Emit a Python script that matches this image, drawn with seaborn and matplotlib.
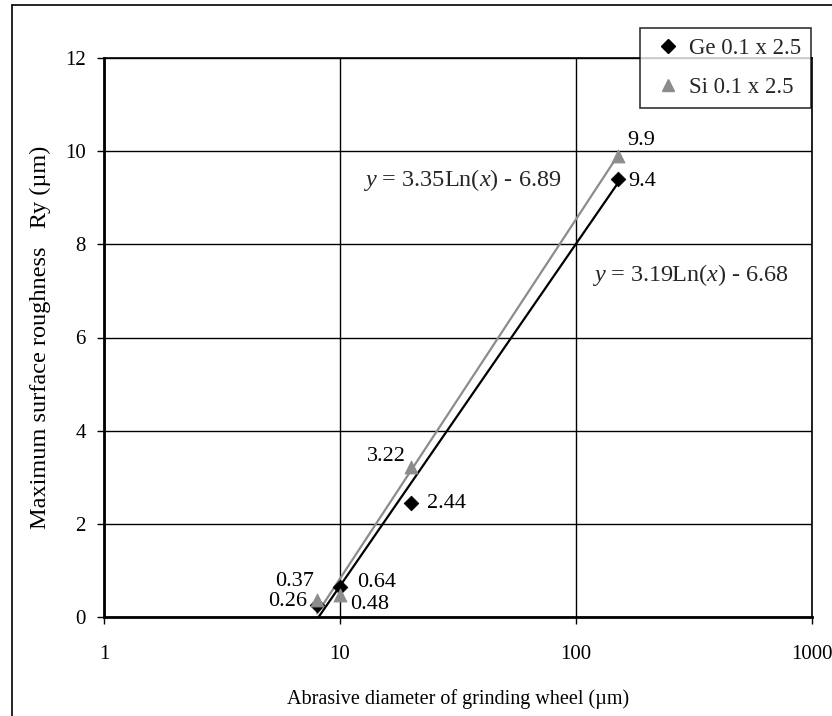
import numpy as np
import pandas as pd
import matplotlib
matplotlib.use("Agg")
import matplotlib.pyplot as plt
from matplotlib.lines import Line2D
import seaborn as sns

# ---- data ----
diameters = [8, 10, 20, 150]
ge_values = [0.26, 0.64, 2.44, 9.4]
si_values = [0.37, 0.48, 3.22, 9.9]
ge_fit = (3.19, -6.68)   # y = a*ln(x) + b
si_fit = (3.35, -6.89)
series_names = ["Ge 0.1 x 2.5", "Si 0.1 x 2.5"]
x_ticks = [1, 10, 100, 1000]
y_ticks = [0, 2, 4, 6, 8, 10, 12]

sns.set_theme(style="white")
plt.rcParams["font.family"] = ["Liberation Serif", "DejaVu Serif"]
plt.rcParams["mathtext.fontset"] = "custom"
plt.rcParams["mathtext.rm"] = "Liberation Serif"
plt.rcParams["mathtext.it"] = "Liberation Serif:italic"

fig = plt.figure(figsize=(8.32, 7.16), dpi=100)
ax = fig.add_axes([104/832, 1-617/716, (812-104)/832, (617-58)/716])

df = pd.DataFrame({
    "x": diameters * 2,
    "y": ge_values + si_values,
    "s": [series_names[0]] * 4 + [series_names[1]] * 4,
})

ge_col = "black"
si_col = "#8c8c8c"

# trend lines from the printed fit coefficients
xs = np.geomspace(min(diameters), max(diameters), 200)
tl = pd.DataFrame({
    "x": np.concatenate([xs, xs]),
    "y": np.concatenate([ge_fit[0]*np.log(xs)+ge_fit[1], si_fit[0]*np.log(xs)+si_fit[1]]),
    "s": ["ge"]*len(xs) + ["si"]*len(xs),
})
sns.lineplot(data=tl[tl.s == "ge"], x="x", y="y", color=ge_col, lw=1.6, ax=ax, legend=False, zorder=3)
sns.lineplot(data=tl[tl.s == "si"], x="x", y="y", color=si_col, lw=1.6, ax=ax, legend=False, zorder=3)

sns.scatterplot(data=df[df.s == series_names[0]], x="x", y="y", marker="D", s=55,
                color=ge_col, edgecolor=ge_col, ax=ax, legend=False, zorder=4)
sns.scatterplot(data=df[df.s == series_names[1]], x="x", y="y", marker="^", s=85,
                color=si_col, edgecolor=si_col, ax=ax, legend=False, zorder=5)

ax.set_xscale("log")
ax.set_xlim(1, 1000)
ax.set_ylim(0, 12)
ax.set_xticks(x_ticks)
ax.set_xticklabels([str(t) for t in x_ticks])
ax.set_yticks(y_ticks)
ax.set_yticklabels([str(t) for t in y_ticks])
ax.xaxis.set_minor_locator(matplotlib.ticker.NullLocator())
ax.tick_params(axis="both", which="major", direction="out", length=5, width=1,
               color="black", labelsize=15, labelcolor="black", bottom=True, left=True)
ax.tick_params(axis="y", pad=8)
ax.tick_params(axis="x", pad=15)
ax.grid(True, which="major", color="black", lw=1)
for sp in ax.spines.values():
    sp.set_color("black")
    sp.set_linewidth(1.2)
ax.spines["left"].set_linewidth(2)
ax.spines["bottom"].set_linewidth(2)

ax.set_xlabel("Abrasive diameter of grinding wheel (\u00b5m)", fontsize=14.5, color="black", labelpad=18)
ax.set_ylabel("Maximum surface roughness   Ry (\u00b5m)", fontsize=17.5, color="black", labelpad=10)

# data labels (offsets in pixels, ha)
fs = 16
ge_off = [((-10, 3), "right"), ((17, 5), "left"), ((16, 0), "left"), ((11, -2), "left")]
si_off = [((-3, 18), "right"), ((10, -10), "left"), ((-5, 11), "right"), ((10, 15), "left")]
for x, y, (o, ha) in zip(diameters, ge_values, ge_off):
    ax.annotate(f"{y:g}", (x, y), xytext=o, textcoords="offset pixels", fontsize=fs,
                color="black", ha=ha, va="center")
for x, y, (o, ha) in zip(diameters, si_values, si_off):
    ax.annotate(f"{y:g}", (x, y), xytext=o, textcoords="offset pixels", fontsize=fs,
                color="black", ha=ha, va="center")

ax.text(363/832, 1-180/716, r"$y$ = %.2fLn($x$) - %.2f" % (si_fit[0], -si_fit[1]),
        transform=fig.transFigure, fontsize=17.5, va="center", ha="left")
ax.text(592/832, 1-275/716, r"$y$ = %.2fLn($x$) - %.2f" % (ge_fit[0], -ge_fit[1]),
        transform=fig.transFigure, fontsize=17.5, va="center", ha="left")

handles = [Line2D([], [], marker="D", color=ge_col, ls="none", ms=7),
           Line2D([], [], marker="^", color=si_col, ls="none", ms=9)]
leg = fig.legend(handles, series_names, loc="upper right", bbox_to_anchor=(811/832, 1-28/716),
                 frameon=True, fancybox=False, fontsize=16.5, handletextpad=0.15,
                 handlelength=1.5, borderpad=0.45, labelspacing=0.75, borderaxespad=0)
leg.get_frame().set_edgecolor("black")
leg.get_frame().set_linewidth(1.2)

# outer border
fig.add_artist(Line2D([12/832, 1], [1-5/716, 1-5/716], color="black", lw=1.2, transform=fig.transFigure))
fig.add_artist(Line2D([12/832, 12/832], [1-5/716, 0], color="black", lw=1.2, transform=fig.transFigure))

fig.savefig("out.png", dpi=100)
